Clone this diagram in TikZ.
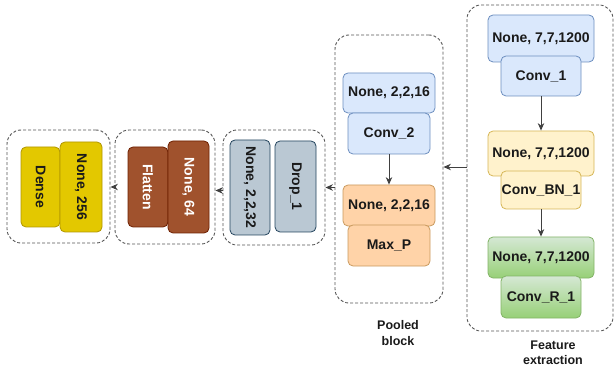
\documentclass[tikz,border=0pt]{standalone}
\usepackage{fontspec}
\setmainfont{Liberation Sans}
\usetikzlibrary{arrows.meta}

\definecolor{blueF}{HTML}{DAE8FC}\definecolor{blueD}{HTML}{6C8EBF}
\definecolor{yelF}{HTML}{FFF2CC}\definecolor{yelD}{HTML}{D6B656}
\definecolor{grnT}{HTML}{D5E8D4}\definecolor{grnB}{HTML}{97D077}\definecolor{grnD}{HTML}{82B366}
\definecolor{orgF}{HTML}{FFD3A8}\definecolor{orgD}{HTML}{C99A5E}
\definecolor{gryF}{HTML}{BAC8D3}\definecolor{gryD}{HTML}{23445D}
\definecolor{brnF}{HTML}{A0522D}\definecolor{brnD}{HTML}{6D1F00}
\definecolor{dnsF}{HTML}{E3C800}\definecolor{dnsD}{HTML}{B09500}
\definecolor{grpD}{HTML}{555555}
\definecolor{arrD}{HTML}{404040}
\definecolor{txtD}{HTML}{1A1A1A}

\tikzset{
  layer/.style={draw, rectangle, rounded corners=5pt, line width=0.8pt, inner sep=0pt,
    font=\fontsize{14}{16}\selectfont\bfseries, text=txtD},
  vlayer/.style={layer, rotate=-90},
  group/.style={draw=grpD, rectangle, rounded corners=14pt, line width=0.9pt,
    dash pattern=on 3pt off 2pt, inner sep=0pt},
  flow/.style={draw=arrD, line width=0.9pt, -{Stealth[length=7.5pt,width=6.5pt]}},
  caption/.style={font=\fontsize{12.5}{15.5}\selectfont\bfseries, text=txtD, align=center},
  blueL/.style={layer, fill=blueF, draw=blueD},
  yelL/.style={layer, fill=yelF, draw=yelD},
  grnL/.style={layer, top color=grnT, bottom color=grnB, draw=grnD},
  orgL/.style={layer, fill=orgF, draw=orgD},
  gryL/.style={vlayer, fill=gryF, draw=gryD},
  brnL/.style={vlayer, fill=brnF, draw=brnD, text=white},
  dnsL/.style={vlayer, fill=dnsF, draw=dnsD},
}

\begin{document}
\begin{tikzpicture}[x=1pt, y=-1pt]
  \useasboundingbox (0,0) rectangle (615,371);

  % feature extraction block
  \node[group, minimum width=146, minimum height=326] (fe) at (540,168) {};
  \node[blueL, minimum width=106, minimum height=47] (n1) at (541,38.5) {None, 7,7,1200};
  \node[blueL, minimum width=80, minimum height=40] (c1) at (541,76) {Conv\_1};
  \node[yelL, minimum width=106, minimum height=45] (n2) at (541,153.5) {None, 7,7,1200};
  \node[yelL, minimum width=80, minimum height=38] (c2) at (541,190) {Conv\_BN\_1};
  \node[grnL, minimum width=106, minimum height=41] (n3) at (541,257.5) {None, 7,7,1200};
  \node[grnL, minimum width=80, minimum height=42] (c3) at (541,297) {Conv\_R\_1};
  \node[caption] (feL) at (553,353) {Feature\\extraction};
  \draw[flow] (c1.south) -- (n2.north);
  \draw[flow] (c2.south) -- (n3.north);

  % pooled block
  \node[group, minimum width=108, minimum height=268] (pb) at (389,169) {};
  \node[blueL, minimum width=92, minimum height=40] (p1) at (389,93) {None, 2,2,16};
  \node[blueL, minimum width=82, minimum height=41] (p2) at (389,133.5) {Conv\_2};
  \node[orgL, minimum width=92, minimum height=41] (p3) at (389,205.5) {None, 2,2,16};
  \node[orgL, minimum width=82, minimum height=41] (p4) at (389,245.5) {Max\_P};
  \node[caption] (pbL) at (398,333) {Pooled\\block};
  \draw[flow] (p2.south) -- (p3.north);

  % dropout block
  \node[group, minimum width=102, minimum height=115] (dg) at (274,187.5) {};
  \node[gryL, minimum width=95, minimum height=40] (g1) at (250,187.5) {None, 2,2,32};
  \node[gryL, minimum width=91, minimum height=41] (g2) at (295.5,186.5) {Drop\_1};

  % flatten block
  \node[group, minimum width=100, minimum height=114] (fg) at (165,187) {};
  \node[brnL, minimum width=80, minimum height=40] (f1) at (148,187) {Flatten};
  \node[brnL, minimum width=92, minimum height=41] (f2) at (188.5,187) {None, 64};

  % dense block
  \node[group, minimum width=103, minimum height=113] (dn) at (58.5,186.5) {};
  \node[dnsL, minimum width=80, minimum height=39] (d1) at (40.5,187) {Dense};
  \node[dnsL, minimum width=90, minimum height=42] (d2) at (81,187) {None, 256};

  % connections between blocks
  \draw[flow] ([yshift=1pt]fe.west) -- ([yshift=1pt]fe.west -| pb.east);
  \draw[flow] (pb.west |- dg.east) -- (dg.east);
  \draw[flow] ([yshift=-3pt]dg.west) -- ([yshift=-3pt]dg.west -| fg.east);
  \draw[flow] (fg.west) -- (fg.west -| dn.east);
\end{tikzpicture}
\end{document}
